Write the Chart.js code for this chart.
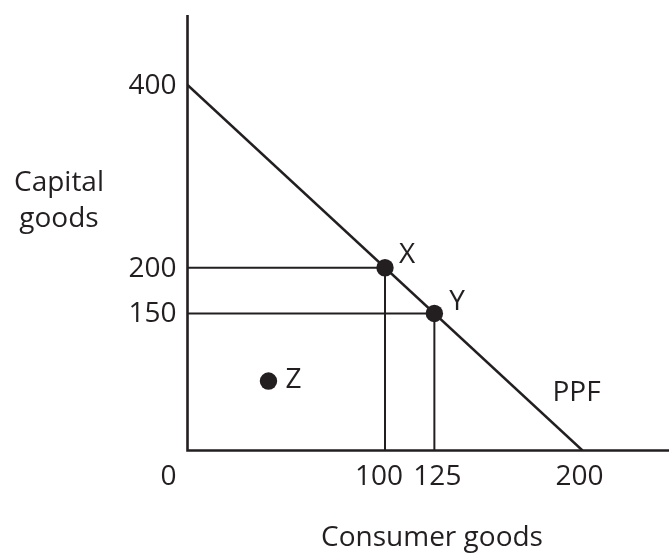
<!DOCTYPE html>
<html>
<head>
<meta charset="utf-8">
<script src="https://cdn.jsdelivr.net/npm/chart.js@4/dist/chart.umd.min.js"></script>
<style>
  html, body { margin: 0; padding: 0; background: #ffffff; }
  #wrap { width: 669px; height: 555px; position: relative; }
</style>
</head>
<body>
<div id="wrap"><canvas id="c"></canvas></div>
<script>
// ---- data ----
const ppfLine = [{x: 0, y: 400}, {x: 200, y: 0}];
const pointNames = ['X', 'Y', 'Z'];
const pointX = [100, 125, 41];
const pointY = [200, 150, 76];
const xTickValues = [0, 100, 125, 200];
const xTickLabels = ['0', '100', '125', '200'];
const yTickValues = [400, 200, 150];
const yTickLabels = ['400', '200', '150'];
const curveLabel = {text: 'PPF', x: 197, y: 63};
const xTitle = 'Consumer goods';
const yTitle = ['Capital', 'goods'];

const INK = '#231f20';
const FONT = '28px "Open Sans", "Noto Sans", sans-serif';

const pts = pointNames.map((n, i) => ({x: pointX[i], y: pointY[i]}));
const guideSets = [0, 1].map(i => [
  {x: 0, y: pointY[i]}, {x: pointX[i], y: pointY[i]}, {x: pointX[i], y: 0}
]);

const labelPlugin = {
  id: 'labels',
  afterDatasetsDraw(chart) {
    const {ctx, chartArea: a, scales: {x, y}} = chart;
    ctx.save();
    // axes
    ctx.strokeStyle = INK;
    ctx.lineWidth = 2.6;
    ctx.lineCap = 'butt';
    ctx.beginPath();
    ctx.moveTo(a.left, a.top);
    ctx.lineTo(a.left, a.bottom);
    ctx.lineTo(a.right, a.bottom);
    ctx.stroke();

    ctx.fillStyle = INK;
    ctx.font = FONT;
    ctx.textBaseline = 'middle';
    // x ticks (small nudges keep the close labels apart, as in the original)
    const xNudge = {0: -19, 100: -6, 125: 3, 200: -3};
    ctx.textAlign = 'center';
    xTickValues.forEach((v, i) => {
      const px = x.getPixelForValue(v) + (xNudge[v] || 0);
      ctx.fillText(xTickLabels[i], px, a.bottom + 27);
    });
    // y ticks
    ctx.textAlign = 'right';
    yTickValues.forEach((v, i) => {
      ctx.fillText(yTickLabels[i], a.left - 11, y.getPixelForValue(v) + 1);
    });
    // point labels
    ctx.textAlign = 'left';
    const offs = [[14, -13], [15, -11], [17, -1]];
    pts.forEach((p, i) => {
      ctx.fillText(pointNames[i], x.getPixelForValue(p.x) + offs[i][0], y.getPixelForValue(p.y) + offs[i][1]);
    });
    ctx.textAlign = 'center';
    ctx.fillText(curveLabel.text, x.getPixelForValue(curveLabel.x), y.getPixelForValue(curveLabel.y));
    // titles
    ctx.fillText(xTitle, 432, 538);
    ctx.fillText(yTitle[0], 59, 183);
    ctx.fillText(yTitle[1], 59, 219);
    ctx.restore();
  }
};

new Chart(document.getElementById('c'), {
  type: 'scatter',
  data: {
    datasets: [
      {data: ppfLine, showLine: true, borderColor: INK, borderWidth: 2.5, pointRadius: 0, order: 3},
      {data: guideSets[0], showLine: true, borderColor: INK, borderWidth: 2, pointRadius: 0, order: 2},
      {data: guideSets[1], showLine: true, borderColor: INK, borderWidth: 2, pointRadius: 0, order: 2},
      {data: pts, showLine: false, pointRadius: 8.7, pointBackgroundColor: INK, pointBorderWidth: 0, order: 1}
    ]
  },
  options: {
    responsive: true,
    maintainAspectRatio: false,
    animation: false,
    events: [],
    layout: {autoPadding: false, padding: {left: 187.5, top: 15, right: 0, bottom: 104.5}},
    plugins: {legend: {display: false}, tooltip: {enabled: false}},
    scales: {
      x: {type: 'linear', min: 0, max: 243.8, display: false},
      y: {type: 'linear', min: 0, max: 476.6, display: false}
    }
  },
  plugins: [labelPlugin]
});
</script>
</body>
</html>
